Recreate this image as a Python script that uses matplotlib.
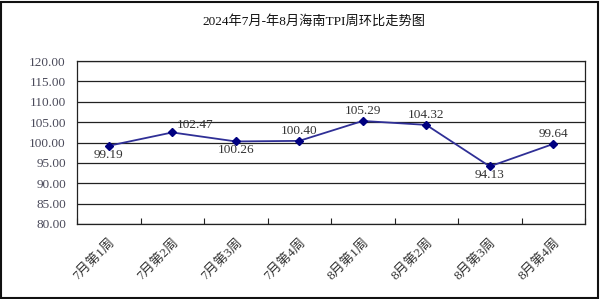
import matplotlib
matplotlib.use("Agg")
import matplotlib.pyplot as plt
from matplotlib.patches import Rectangle

categories = ["7月第1周", "7月第2周", "7月第3周", "7月第4周", "8月第1周", "8月第2周", "8月第3周", "8月第4周"]
values = [99.19, 102.47, 100.26, 100.40, 105.29, 104.32, 94.13, 99.64]
label_pos = ["below", "right", "below", "above", "above", "above", "below", "above"]
title = "2024年7月-年8月海南TPI周环比走势图"
yticks = [80, 85, 90, 95, 100, 105, 110, 115, 120]

fam = ["Liberation Serif", "Noto Sans CJK SC", "DejaVu Sans"]
plt.rcParams['font.family'] = fam

fig = plt.figure(figsize=(6.0, 2.99), dpi=100)
W, H = 600, 299
left, right, top, bottom = 77, 585, 61, 224
ax = fig.add_axes([left / W, 1 - bottom / H, (right - left) / W, (bottom - top) / H])

x = list(range(len(categories)))
line_color = "#2f2f96"
ax.plot(x, values, color=line_color, lw=1.3, marker="D", ms=4.5,
        markerfacecolor="#000080", markeredgecolor="#000080", zorder=3)

for xi, v, p in zip(x, values, label_pos):
    if p == "above":
        ax.annotate(f"{v:.2f}", (xi, v), xytext=(0, 3), textcoords="offset points",
                    ha="center", va="bottom", fontsize=9.5, color="#333333")
    elif p == "right":
        ax.annotate(f"{v:.2f}", (xi, v), xytext=(3, 1), textcoords="offset points",
                    ha="left", va="bottom", fontsize=9.5, color="#333333")
    else:
        ax.annotate(f"{v:.2f}", (xi, v), xytext=(0, -2), textcoords="offset points",
                    ha="center", va="top", fontsize=9.5, color="#333333")

ax.set_xlim(-0.5, len(categories) - 0.5)
ax.set_ylim(80, 120)
ax.set_yticks(yticks)
ax.set_yticklabels([f"{t:.2f}" for t in yticks], fontsize=9.5, color="#4a4a5a")
ax.yaxis.grid(True, color="#222222", lw=0.9)
ax.set_axisbelow(True)
ax.tick_params(axis="y", length=0, pad=8)

ax.set_xticks([i + 0.5 for i in range(-1, len(categories))], minor=False)
ax.set_xticklabels([""] * (len(categories) + 1))
ax.tick_params(axis="x", direction="in", length=4, color="#222222")
ax.set_xticks(x, minor=True)
ax.set_xticklabels(categories, minor=True, rotation=45, ha="right", rotation_mode="anchor",
                   fontsize=9.5, color="#333333")
ax.tick_params(axis="x", which="minor", length=0, pad=9)

for s in ax.spines.values():
    s.set_color("#222222")
    s.set_linewidth(0.9)

fig.text(314 / W, 1 - 21 / H, title, ha="center", va="center", fontsize=9.5, color="#111111")

fig.patches.append(Rectangle((0.002, 0.004), 0.994, 0.99, transform=fig.transFigure,
                             fill=False, edgecolor="#111111", lw=1.5))

fig.savefig("out.png", dpi=100)
